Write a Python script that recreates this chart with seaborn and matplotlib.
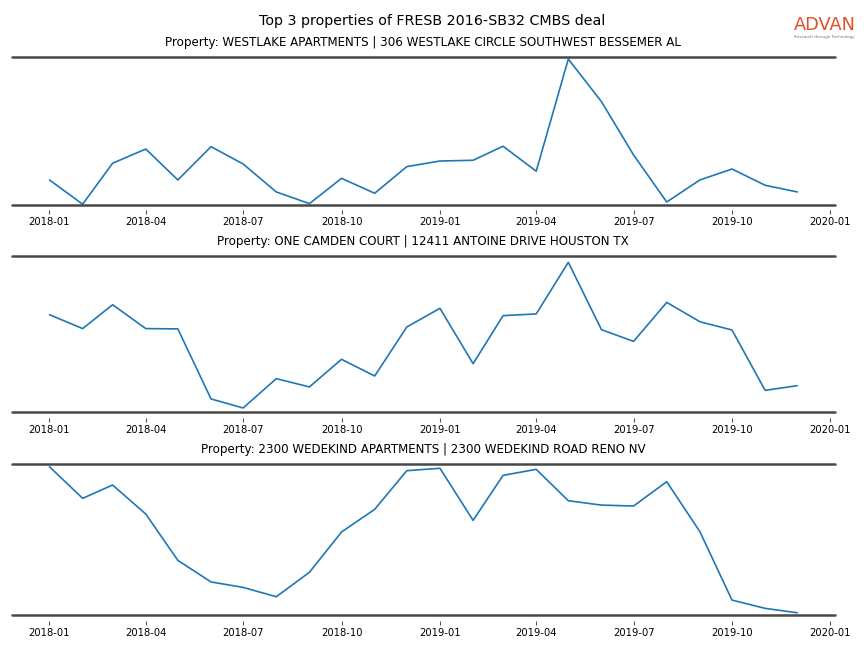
import pandas as pd
import numpy as np
import seaborn as sns
import matplotlib.pyplot as plt

# monthly foot-traffic index (relative, 0-100) for the top 3 properties
months = pd.date_range('2018-01-01', '2019-12-01', freq='MS')

westlake = [16.7, 0.3, 28.0, 37.6, 16.7, 39.2, 27.5, 8.6, 0.7, 17.8, 7.7, 25.7,
            29.5, 30.0, 39.5, 22.6, 98.4, 69.6, 33.6, 1.8, 16.7, 24.1, 13.1, 8.6]
camden = [62.6, 53.7, 69.0, 53.7, 53.5, 8.6, 2.8, 21.6, 16.3, 34.0, 23.3, 54.7,
          66.7, 31.2, 62.0, 63.1, 96.2, 53.0, 45.5, 70.5, 58.1, 52.8, 14.1, 17.1]
wedekind = [98.2, 77.3, 86.1, 66.9, 36.2, 21.9, 18.3, 12.1, 28.3, 55.0, 70.0, 95.6,
            97.2, 62.7, 92.5, 96.5, 75.7, 72.8, 72.2, 88.3, 55.2, 9.9, 4.4, 1.5]

titles = [
    'Property: WESTLAKE APARTMENTS | 306 WESTLAKE CIRCLE SOUTHWEST BESSEMER AL',
    'Property: ONE CAMDEN COURT | 12411 ANTOINE DRIVE HOUSTON TX',
    'Property: 2300 WEDEKIND APARTMENTS | 2300 WEDEKIND ROAD RENO NV',
]
series = [westlake, camden, wedekind]

sns.set_style('white')
plt.rcParams['text.color'] = 'black'
plt.rcParams['xtick.color'] = 'black'

fig, axes = plt.subplots(3, 1, figsize=(8.64, 6.48), dpi=100,
                         gridspec_kw={'height_ratios': [148, 156, 151]})
plt.subplots_adjust(left=0.014, right=0.966, top=0.9125, bottom=0.0509, hspace=0.341)

for ax, vals, title in zip(axes, series, titles):
    df = pd.DataFrame({'date': months, 'value': vals})
    sns.lineplot(data=df, x='date', y='value', ax=ax, color='#1f77b4', linewidth=1.2)
    ax.set_ylim(0, 100)
    ax.set_title(title, fontsize=8.6, pad=8)
    ax.set_xlabel('')
    ax.set_ylabel('')
    ax.set_yticks([])
    # horizontal rules at top and bottom of each panel
    ax.axhline(100, color='#484848', linewidth=1.8, clip_on=False)
    ax.axhline(0, color='#484848', linewidth=1.8, clip_on=False)
    for s in ['top', 'left', 'right']:
        ax.spines[s].set_visible(False)
    ax.spines['bottom'].set_position(('outward', 4))
    ax.spines['bottom'].set_visible(False)
    ax.tick_params(axis='x', bottom=True, length=3, width=0.8, color='#555555',
                   labelsize=7.2, pad=2)

fig.suptitle('Top 3 properties of FRESB 2016-SB32 CMBS deal', fontsize=10.3,
             y=0.968, va='center')

# logo
fig.text(0.955, 0.961, 'ADVAN', color='#e0502a', fontsize=12.8, ha='center', va='center')
fig.text(0.954, 0.943, 'Research through Technology', color='#777777', fontsize=3,
         ha='center', va='center')

plt.savefig('out.png')
